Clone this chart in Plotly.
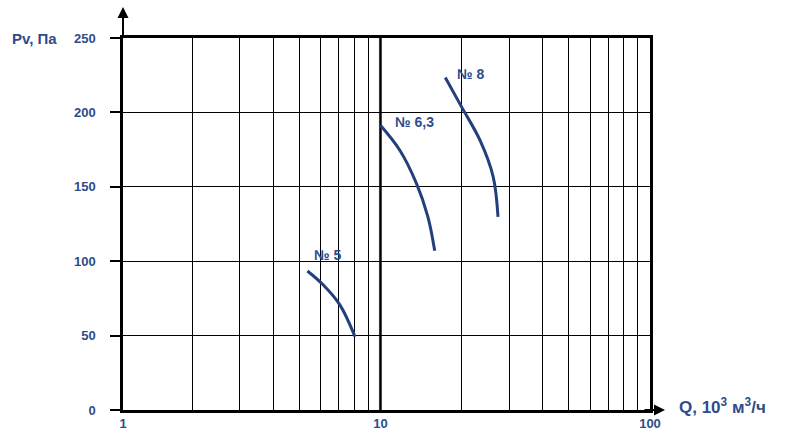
import math
import plotly.graph_objects as go

# Fan curves (Q in 10^3 m3/h, Pv in Pa)
q_n5 = [5.36, 6.14, 7.08, 8.05]
pv_n5 = [93.4, 84.0, 70.5, 49.2]

q_n63 = [10.0, 11.8, 13.6, 15.0, 15.9]
pv_n63 = [191.4, 174.6, 152.3, 129.8, 107.0]

q_n8 = [17.4, 20.0, 23.4, 26.2, 27.3]
pv_n8 = [223.4, 203.7, 181.3, 156.7, 129.8]

curve_names = ["№ 5", "№ 6,3", "№ 8"]
label_q = [5.56, 11.1, 18.9]
label_pv = [104, 193.4, 226]

y_ticks = [0, 50, 100, 150, 200, 250]
x_start = 10 ** 0.045  # left edge of the drawn axis ("1")
x_minor = [k * 10 ** d for d in (0, 1) for k in range(2, 10)]
x_tickvals = [x_start] + x_minor + [10, 100]
x_ticktext = ["1"] + [""] * len(x_minor) + ["10", "100"]

blue = "#2e4c8c"
navy = "#22407c"
font_family = "Liberation Sans, Arial, sans-serif"

fig = go.Figure()
for q, pv in [(q_n5, pv_n5), (q_n63, pv_n63), (q_n8, pv_n8)]:
    fig.add_trace(go.Scatter(x=q, y=pv, mode="lines", line=dict(color=navy, width=3, shape="spline"),
                             showlegend=False, hoverinfo="skip"))

# annotations on a log axis take log10 positions
for name, q, pv in zip(curve_names, label_q, label_pv):
    fig.add_annotation(x=math.log10(q), y=pv, xref="x", yref="y", text=name, showarrow=False,
                       xanchor="left", yanchor="middle",
                       font=dict(family=font_family, size=14, color=blue, weight="bold"))

# emphasised line at Q = 10
fig.add_vline(x=10, line_width=3, line_color="#3a3a3a", layer="below")

# axis arrows
fig.add_annotation(x=0, y=1.083, xref="paper", yref="paper", ax=0, ay=32, text="", showarrow=True,
                   arrowhead=2, arrowsize=1.1, arrowwidth=2, arrowcolor="black")
fig.add_annotation(x=1.0285, y=0, xref="paper", yref="paper", ax=-22, ay=0, text="", showarrow=True,
                   arrowhead=2, arrowsize=1.1, arrowwidth=2, arrowcolor="black")

# axis titles
fig.add_annotation(x=-0.2144, y=1, xref="paper", yref="paper", text="Pv, Па", showarrow=False,
                   xanchor="left", yanchor="middle",
                   font=dict(family=font_family, size=15, color=blue, weight="bold"))
fig.add_annotation(x=1.051, y=0.012, xref="paper", yref="paper", text="Q, 10<sup>3</sup> м<sup>3</sup>/ч",
                   showarrow=False, xanchor="left", yanchor="middle",
                   font=dict(family=font_family, size=17, color=blue, weight="bold"))

fig.update_layout(
    width=798, height=443,
    margin=dict(l=123, r=148, t=38, b=33),
    plot_bgcolor="white", paper_bgcolor="white",
    xaxis=dict(type="log", range=[0.045, 2], tickvals=x_tickvals, ticktext=x_ticktext,
               showgrid=True, gridcolor="black", gridwidth=1, showline=True, linecolor="black",
               linewidth=2.5, mirror=True, ticks="", zeroline=False,
               tickfont=dict(family=font_family, size=13, color=blue, weight="bold")),
    yaxis=dict(range=[0, 250], tickvals=y_ticks, showgrid=True, gridcolor="black", gridwidth=1,
               showline=True, linecolor="black", linewidth=2.5, mirror=True, ticks="outside",
               ticklen=10, tickcolor="black", tickwidth=1.5, ticklabelstandoff=12, zeroline=False,
               tickfont=dict(family=font_family, size=13, color=blue, weight="bold")),
)

fig.write_html("out.html", config={"displayModeBar": False},
               post_script="document.body.style.margin='0px';")
